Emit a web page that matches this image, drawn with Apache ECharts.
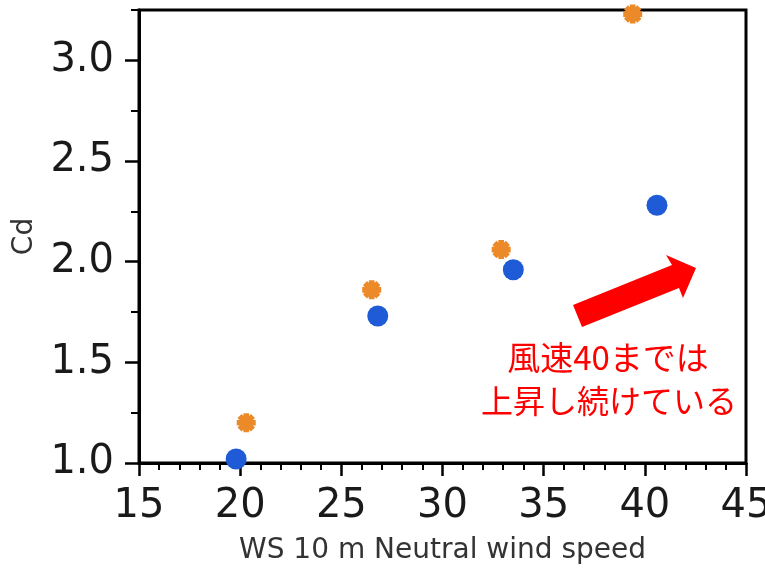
<!DOCTYPE html>
<html>
<head>
<meta charset="utf-8">
<script src="https://cdn.jsdelivr.net/npm/echarts@6/dist/echarts.min.js"></script>
<style>html,body{margin:0;padding:0;background:#fff}#c{width:765px;height:568px}</style>
</head>
<body>
<div id="c"></div>
<script>
// ---- data ----
const blueX = [19.8, 26.8, 33.5, 40.6];
const blueY = [1.02, 1.73, 1.96, 2.28];
const orangeX = [20.3, 26.5, 32.9, 39.4];
const orangeY = [1.20, 1.86, 2.06, 3.23];
const xTicks = [15, 20, 25, 30, 35, 40, 45];
const yMajor = [1.0, 1.5, 2.0, 2.5, 3.0];
const yMinor = [1.25, 1.75, 2.25, 2.75, 3.25];
const xName = 'WS 10 m Neutral wind speed';
const yName = 'Cd';
const note1 = '風速40までは';
const note2 = '上昇し続けている';

// asterisk symbol path (4 thick bars -> 8 arms)
function asteriskPath() {
  const w = 0.3, L = 1;
  let d = '';
  [0, 45, 90, 135].forEach(a => {
    const r = a * Math.PI / 180, c = Math.cos(r), s = Math.sin(r);
    const pts = [[-L, -w], [L, -w], [L, w], [-L, w]].map(([x, y]) => [x * c - y * s, x * s + y * c]);
    d += 'M' + pts.map(p => p[0].toFixed(3) + ' ' + p[1].toFixed(3)).join(' L') + ' Z ';
  });
  return 'path://' + d;
}

const chart = echarts.init(document.getElementById('c'), null, {renderer: 'canvas'});
const font = 'DejaVu Sans';
chart.setOption({
  animation: false,
  backgroundColor: '#ffffff',
  grid: {left: 139, right: 19, top: 10, bottom: 105, show: true, borderColor: '#000', borderWidth: 3,
    backgroundColor: 'transparent', containLabel: false, outerBoundsMode: 'none'},
  xAxis: {
    type: 'value', min: 15, max: 45, interval: 5,
    name: xName, nameLocation: 'middle', nameGap: 74,
    nameTextStyle: {fontFamily: font, fontSize: 28, color: '#333'},
    axisLine: {show: true, onZero: false, lineStyle: {color: '#000', width: 3}},
    axisTick: {show: true, length: 13, lineStyle: {color: '#000', width: 2.5}},
    minorTick: {show: true, splitNumber: 5, length: 7, lineStyle: {color: '#000', width: 2}},
    axisLabel: {fontFamily: font, fontSize: 40, color: '#1a1a1a', margin: 24,
      customValues: xTicks, formatter: v => String(v)},
    splitLine: {show: false}
  },
  yAxis: [{
    type: 'value', min: 1, max: 3.25, interval: 0.5,
    name: yName, nameLocation: 'middle', nameGap: 100,
    nameTextStyle: {fontFamily: font, fontSize: 28, color: '#333'},
    axisLine: {show: true, onZero: false, lineStyle: {color: '#000', width: 3}},
    axisTick: {show: true, length: 14, customValues: yMajor, lineStyle: {color: '#000', width: 2.5}},
    axisLabel: {fontFamily: font, fontSize: 40, color: '#1a1a1a', margin: 25,
      customValues: yMajor, formatter: v => v.toFixed(1)},
    splitLine: {show: false}
  }, {
    type: 'value', min: 1, max: 3.25, position: 'left',
    axisLine: {show: false},
    axisTick: {show: true, length: 8, customValues: yMinor, lineStyle: {color: '#000', width: 2}},
    axisLabel: {show: false},
    splitLine: {show: false}
  }],
  series: [{
    type: 'scatter', yAxisIndex: 0,
    data: blueX.map((x, i) => [x, blueY[i]]),
    symbol: 'circle', symbolSize: 21,
    itemStyle: {color: '#1f5bd6', opacity: 1}
  }, {
    type: 'scatter', yAxisIndex: 0,
    data: orangeX.map((x, i) => [x, orangeY[i]]),
    symbol: asteriskPath(), symbolSize: 19, symbolKeepAspect: true,
    itemStyle: {color: '#ec8a2a', opacity: 1}
  }],
  graphic: [{
    type: 'polygon', z: 100,
    shape: {points: [[573, 305], [672, 265], [666, 255], [696, 268], [683, 298], [679, 288], [582, 327]]},
    style: {fill: '#ff0000'}
  }, {
    type: 'text', z: 100, x: 608, y: 357,
    style: {text: note1, font: '33px "Noto Sans CJK JP"', fill: '#ff0000', align: 'center', verticalAlign: 'middle'}
  }, {
    type: 'text', z: 100, x: 609, y: 401,
    style: {text: note2, font: '32px "Noto Sans CJK JP"', fill: '#ff0000', align: 'center', verticalAlign: 'middle'}
  }]
});
</script>
</body>
</html>
